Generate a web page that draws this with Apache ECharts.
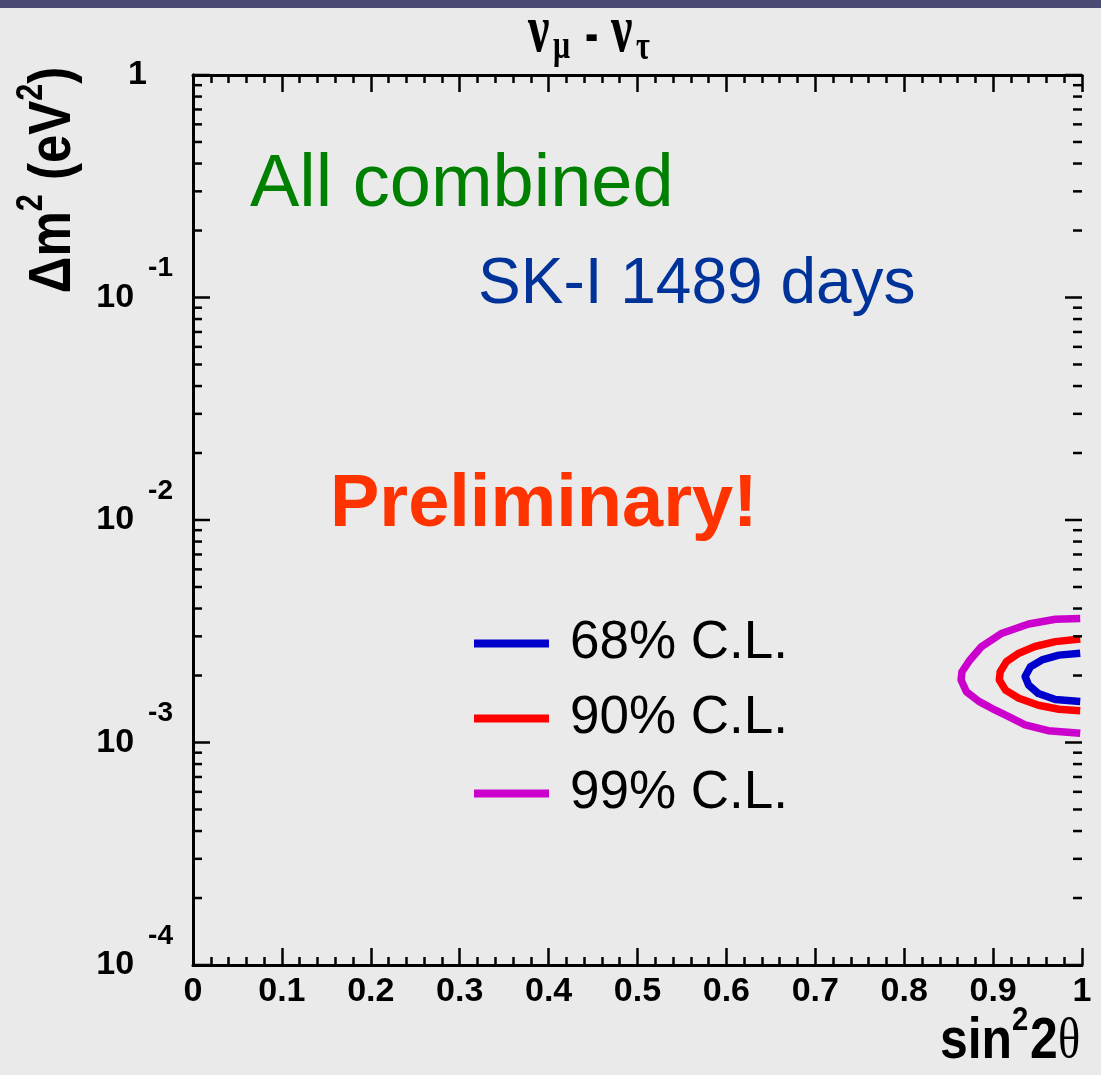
<!DOCTYPE html>
<html>
<head>
<meta charset="utf-8">
<script src="https://cdn.jsdelivr.net/npm/echarts@6/dist/echarts.min.js"></script>
<style>
html,body{margin:0;padding:0;background:#eaeaea;}
#chart{width:1101px;height:1075px;}
</style>
</head>
<body>
<div id="chart"></div>
<script>
// ---- data ----
const seriesNames = ['68% C.L.', '90% C.L.', '99% C.L.'];
const ci68X = [0.998, 0.974, 0.955, 0.942, 0.936, 0.940, 0.951, 0.970, 0.998];
const ci68Y = [2.52e-3, 2.47e-3, 2.35e-3, 2.19e-3, 1.98e-3, 1.81e-3, 1.66e-3, 1.56e-3, 1.53e-3];
const ci90X = [0.998, 0.970, 0.947, 0.929, 0.915, 0.908, 0.907, 0.914, 0.929, 0.951, 0.974, 0.998];
const ci90Y = [2.92e-3, 2.84e-3, 2.70e-3, 2.52e-3, 2.31e-3, 2.08e-3, 1.91e-3, 1.72e-3, 1.58e-3, 1.47e-3, 1.41e-3, 1.39e-3];
const ci99X = [0.998, 0.970, 0.940, 0.910, 0.887, 0.874, 0.865, 0.864, 0.870, 0.884, 0.902, 0.917, 0.936, 0.962, 0.998];
const ci99Y = [3.61e-3, 3.58e-3, 3.41e-3, 3.10e-3, 2.70e-3, 2.35e-3, 2.08e-3, 1.91e-3, 1.69e-3, 1.53e-3, 1.40e-3, 1.31e-3, 1.20e-3, 1.13e-3, 1.10e-3];
const yMajorTicks = [1e-4, 1e-3, 1e-2, 1e-1, 1];
const yMinorTicks = [
  2e-4, 3e-4, 4e-4, 5e-4, 6e-4, 7e-4, 8e-4, 9e-4,
  2e-3, 3e-3, 4e-3, 5e-3, 6e-3, 7e-3, 8e-3, 9e-3,
  2e-2, 3e-2, 4e-2, 5e-2, 6e-2, 7e-2, 8e-2, 9e-2,
  0.2, 0.3, 0.4, 0.5, 0.6, 0.7, 0.8, 0.9
];
const yExponents = {1: '0', 0.1: '-1', 0.01: '-2', 0.001: '-3', 0.0001: '-4'};

const zip = (xs, ys) => xs.map((x, i) => [x, ys[i]]);
const SANS = '"Liberation Sans", Arial, Helvetica, sans-serif';
const SERIF = '"Liberation Serif", "Times New Roman", serif';

const chart = echarts.init(document.getElementById('chart'), null, {renderer: 'canvas'});

const frameLine = {show: true, lineStyle: {color: '#000', width: 3}};
const xAxisCommon = {
  type: 'value', min: 0, max: 1, interval: 0.1,
  axisLine: frameLine,
  splitLine: {show: false},
  axisTick: {show: true, inside: true, length: 17, lineStyle: {color: '#000', width: 2.5}},
  minorTick: {show: true, splitNumber: 5, length: 8, lineStyle: {color: '#000', width: 2.5}},
  minorSplitLine: {show: false}
};
const yAxisCommon = {
  type: 'log', logBase: 10, min: 1e-4, max: 1,
  axisLine: frameLine,
  splitLine: {show: false},
  axisTick: {show: false}
};

function tickSeries(name, values, len, color) {
  return {
    name: name, type: 'custom', silent: true, clip: false, z: 6,
    data: values.map(v => [0, v]),
    renderItem: function (params, api) {
      const v = api.value(1);
      const pL = api.coord([0, v]);
      const pR = api.coord([1, v]);
      return {
        type: 'group',
        children: [
          {type: 'line', shape: {x1: pL[0], y1: pL[1], x2: pL[0] + len, y2: pL[1]}, style: {stroke: color, lineWidth: 2.5}},
          {type: 'line', shape: {x1: pR[0] - len, y1: pR[1], x2: pR[0], y2: pR[1]}, style: {stroke: color, lineWidth: 2.5}}
        ]
      };
    }
  };
}

function txt(x, y, text, font, opts) {
  return Object.assign({
    type: 'text', x: x, y: y, silent: true,
    style: {text: text, font: font, fill: '#000', textAlign: 'left', textVerticalAlign: 'middle'}
  }, opts || {});
}

const option = {
  backgroundColor: '#eaeaea',
  animation: false,
  grid: {left: 193, right: 19, top: 75, bottom: 110, containLabel: false},
  xAxis: [
    Object.assign({}, xAxisCommon, {
      position: 'bottom',
      axisLabel: {
        show: true, margin: 10, color: '#000',
        fontFamily: SANS, fontWeight: 'bold', fontSize: 34,
        formatter: v => String(Math.round(v * 10) / 10)
      }
    }),
    Object.assign({}, xAxisCommon, {position: 'top', axisLabel: {show: false}})
  ],
  yAxis: [
    Object.assign({}, yAxisCommon, {
      position: 'left',
      axisLabel: {
        show: true, margin: 20, color: '#000',
        fontFamily: SANS, fontWeight: 'bold',
        formatter: function (v) {
          const key = Number(v.toPrecision(3));
          if (key === 1) return '{one|1}';
          return '{b|10}{s|' + yExponents[key] + '}';
        },
        rich: {
          one: {fontFamily: SANS, fontWeight: 'bold', fontSize: 34, lineHeight: 34, padding: [0, 26, 0, 0], color: '#000'},
          b: {fontFamily: SANS, fontWeight: 'bold', fontSize: 34, lineHeight: 86, verticalAlign: 'middle', color: '#000'},
          s: {fontFamily: SANS, fontWeight: 'bold', fontSize: 28, lineHeight: 28, verticalAlign: 'top', padding: [0, 0, 0, 14], color: '#000'}
        }
      }
    }),
    Object.assign({}, yAxisCommon, {position: 'right', axisLabel: {show: false}})
  ],
  legend: {
    data: seriesNames,
    orient: 'vertical',
    left: 474, top: 617,
    padding: 0,
    icon: 'rect',
    itemWidth: 75, itemHeight: 8,
    itemGap: 22,
    textStyle: {fontFamily: SANS, fontSize: 53, lineHeight: 53, color: '#000', padding: [0, 0, 0, 16]}
  },
  series: [
    {
      name: seriesNames[0], type: 'line', data: zip(ci68X, ci68Y),
      color: '#0000cc', showSymbol: false, symbol: 'none', smooth: false,
      lineStyle: {width: 7.5, color: '#0000cc', cap: 'butt', join: 'round'}, z: 5
    },
    {
      name: seriesNames[1], type: 'line', data: zip(ci90X, ci90Y),
      color: '#ff0000', showSymbol: false, symbol: 'none', smooth: false,
      lineStyle: {width: 7.5, color: '#ff0000', cap: 'butt', join: 'round'}, z: 5
    },
    {
      name: seriesNames[2], type: 'line', data: zip(ci99X, ci99Y),
      color: '#cc00cc', showSymbol: false, symbol: 'none', smooth: false,
      lineStyle: {width: 7.5, color: '#cc00cc', cap: 'butt', join: 'round'}, z: 5
    },
    tickSeries('majorTicksY', yMajorTicks, 17, '#000'),
    tickSeries('minorTicksY', yMinorTicks, 9, '#000')
  ],
  graphic: [
    {type: 'rect', left: 0, top: 0, shape: {width: 1101, height: 8}, style: {fill: '#4b4a72'}, silent: true},
    // title: nu_mu - nu_tau
    txt(528, 34, 'ν', 'bold 48px ' + SERIF, {scaleY: 1.4}),
    txt(553, 47, 'μ', 'bold 30px ' + SERIF, {scaleY: 1.4}),
    txt(585, 37, '-', 'bold 40px ' + SANS, {scaleY: 1.4}),
    txt(611, 34, 'ν', 'bold 48px ' + SERIF, {scaleY: 1.4}),
    txt(636, 48, 'τ', 'bold 30px ' + SERIF, {scaleY: 1.4}),
    {
      type: 'text', x: 250, y: 186, silent: true,
      style: {text: 'All combined', font: '74px ' + SANS, fill: '#008000', textAlign: 'left', textVerticalAlign: 'middle'}
    },
    {
      type: 'text', x: 478, y: 285, silent: true,
      style: {text: 'SK-I 1489 days', font: '64px ' + SANS, fill: '#003399', textAlign: 'left', textVerticalAlign: 'middle'}
    },
    {
      type: 'text', x: 330, y: 506, silent: true,
      style: {text: 'Preliminary!', font: 'bold 74px ' + SANS, fill: '#ff3300', textAlign: 'left', textVerticalAlign: 'middle'}
    },
    {
      type: 'text', x: 49, y: 180, rotation: Math.PI / 2, scaleX: 0.85, silent: true,
      style: {
        text: '{a|Δm}{p|2}{a| (eV}{p|2}{a|)}',
        textAlign: 'center', textVerticalAlign: 'middle',
        rich: {
          a: {fontFamily: SANS, fontWeight: 'bold', fontSize: 60, lineHeight: 69, verticalAlign: 'bottom', fill: '#000'},
          p: {fontFamily: SANS, fontWeight: 'bold', fontSize: 36, lineHeight: 36, verticalAlign: 'top', fill: '#000'}
        }
      }
    },
    // x-axis title: sin^2 2theta
    txt(940, 1042, 'sin', 'bold 58px ' + SANS, {scaleX: 0.86}),
    txt(1012, 1021, '2', 'bold 34px ' + SANS, {scaleX: 0.86}),
    txt(1030, 1042, '2', 'bold 58px ' + SANS, {scaleX: 0.86}),
    txt(1058, 1042, 'θ', '58px ' + SERIF, {scaleX: 0.8})
  ]
};
chart.setOption(option);
</script>
</body>
</html>
